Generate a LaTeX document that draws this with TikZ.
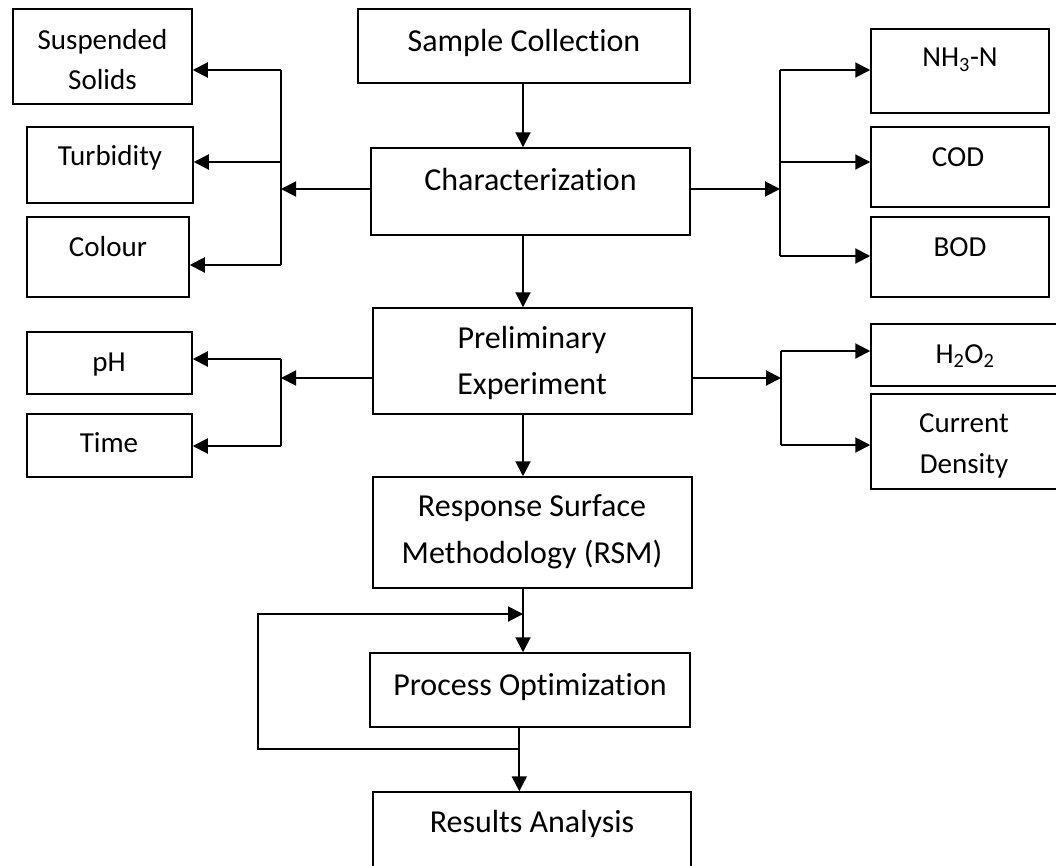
\documentclass[tikz,border=0pt]{standalone}
\usepackage{fontspec}
\setmainfont{Carlito}[Ligatures={NoCommon}]
\usetikzlibrary{arrows.meta,fit}
\newcommand\twolines[2]{\begin{tabular}[t]{@{}c@{}}#1\\#2\end{tabular}}
\tikzset{
  box/.style={draw, line width=1.5pt, inner sep=0pt},
  big/.style={font=\fontsize{32}{46.5}\selectfont, anchor=base, inner sep=0pt},
  small/.style={font=\fontsize{29}{40.5}\selectfont, anchor=base, inner sep=0pt},
  conn/.style={line width=2pt},
  arr/.style={conn, -{Triangle[length=15pt,width=15pt]}},
}
\begin{document}
\begin{tikzpicture}[x=1pt,y=-1pt]
\useasboundingbox (0,0) rectangle (1056,865);
% boxes
\node[box, fit={(13,9) (192,104)}] (ss) {};
\node[box, fit={(27,127) (193,203)}] (tu) {};
\node[box, fit={(27,217) (189,297)}] (co) {};
\node[box, fit={(358,9) (690,83)}] (sc) {};
\node[box, fit={(371,148) (690,235)}] (ch) {};
\node[box, fit={(871,29) (1049,113)}] (nh) {};
\node[box, fit={(871,127) (1049,207)}] (cod) {};
\node[box, fit={(871,217) (1049,297)}] (bod) {};
\node[box, fit={(27,332) (192,394)}] (ph) {};
\node[box, fit={(27,414) (192,477)}] (ti) {};
\node[box, fit={(373,308) (692,414)}] (pe) {};
\node[box, fit={(871,324) (1058,386)}] (h2) {};
\node[box, fit={(871,394) (1058,489)}] (cd) {};
\node[box, fit={(373,477) (692,588)}] (rsm) {};
\node[box, fit={(370,653) (690,727)}] (po) {};
\node[box, fit={(373,792) (691,880)}] (ra) {};
% texts
\node[small] (sst) at (102.5,49) {\twolines{Suspended}{Solids}};
\node[small] (tut) at (110,165.7) {Turbidity};
\node[small] (cot) at (108,256.7) {Colour};
\node[big] (sct) at (524,51.7) {Sample Collection};
\node[big] (cht) at (530.5,190) {Characterization};
\node[small] (nht) at (960,66.7) {NH\textsubscript{3}-N};
\node[small] (codt) at (958,166.7) {COD};
\node[small] (bodt) at (960,256.7) {BOD};
\node[small] (pht) at (109,371) {pH};
\node[small] (tit) at (109,452.7) {Time};
\node[big] (pet) at (532,348.3) {\twolines{Preliminary}{Experiment}};
\node[small] (h2t) at (965,363.3) {H\textsubscript{2}O\textsubscript{2}};
\node[small] (cdt) at (964,432.7) {\twolines{Current}{Density}};
\node[big] (rsmt) at (532,516.7) {\twolines{Response Surface}{Methodology (RSM)}};
\node[big] (pot) at (530,695) {Process Optimization};
\node[big] (rat) at (532,832.7) {Results Analysis};
% junction coordinates
\coordinate (L1) at (281,189);
\coordinate (L1a) at (281,70);
\coordinate (L1b) at (281,162);
\coordinate (L1c) at (281,265);
\coordinate (R1) at (780,189);
\coordinate (R1a) at (780,70);
\coordinate (R1b) at (780,162);
\coordinate (R1c) at (780,256);
\coordinate (L2) at (281,378);
\coordinate (L2a) at (281,359);
\coordinate (L2b) at (281,446);
\coordinate (R2) at (781,378);
\coordinate (R2a) at (781,351);
\coordinate (R2b) at (781,445);
\coordinate (C1) at (523,0);
\coordinate (C2) at (519.3,0);
\coordinate (lp1) at (519.3,749);
\coordinate (lp2) at (258,749);
\coordinate (lp3) at (258,614);
\coordinate (lp4) at (523,614);
% main flow
\draw[arr] (sc.south -| C1) -- (ch.north -| C1);
\draw[arr] (ch.south -| C1) -- (pe.north -| C1);
\draw[arr] (pe.south -| C1) -- (rsm.north -| C1);
\draw[arr] (rsm.south -| C1) -- (po.north -| C1);
\draw[arr] (po.south -| C2) -- (ra.north -| C2);
\draw[arr] (lp1) -- (lp2) -- (lp3) -- (lp4);
% characterization branches
\draw[arr] (ch.west |- L1) -- (L1);
\draw[conn] (L1a) -- (L1c);
\draw[arr] (L1a) -- (ss.east |- L1a);
\draw[arr] (L1b) -- (tu.east |- L1b);
\draw[arr] (L1c) -- (co.east |- L1c);
\draw[arr] (ch.east |- R1) -- (R1);
\draw[conn] (R1a) -- (R1c);
\draw[arr] (R1a) -- (nh.west |- R1a);
\draw[arr] (R1b) -- (cod.west |- R1b);
\draw[arr] (R1c) -- (bod.west |- R1c);
% preliminary branches
\draw[arr] (pe.west |- L2) -- (L2);
\draw[conn] (L2a) -- (L2b);
\draw[arr] (L2a) -- (ph.east |- L2a);
\draw[arr] (L2b) -- (ti.east |- L2b);
\draw[arr] (pe.east |- R2) -- (R2);
\draw[conn] (R2a) -- (R2b);
\draw[arr] (R2a) -- (h2.west |- R2a);
\draw[arr] (R2b) -- (cd.west |- R2b);
\end{tikzpicture}
\end{document}
